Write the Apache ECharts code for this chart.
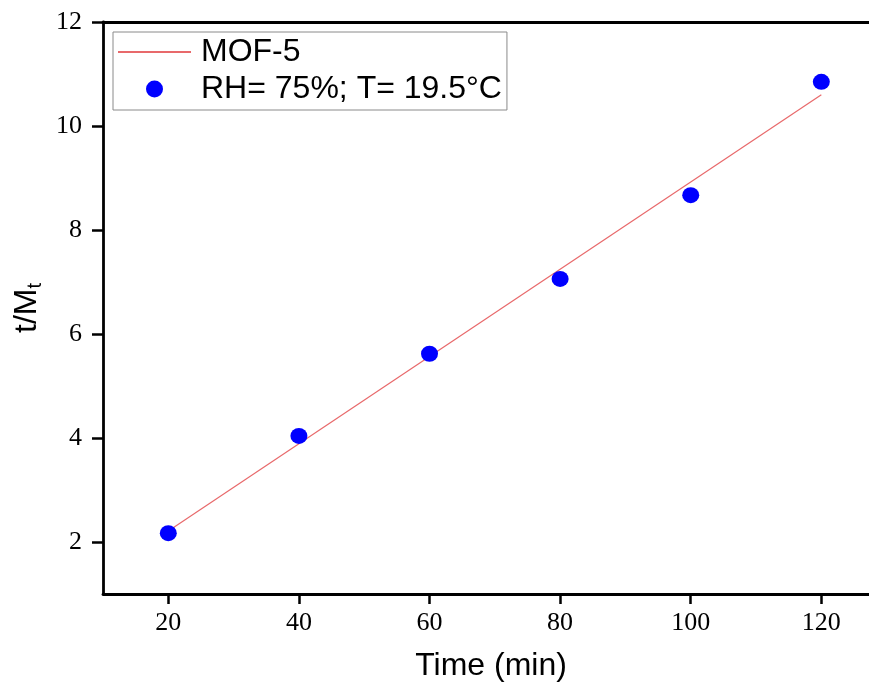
<!DOCTYPE html>
<html>
<head>
<meta charset="utf-8">
<script src="https://cdn.jsdelivr.net/npm/echarts@6/dist/echarts.min.js"></script>
<style>
  html, body { margin: 0; padding: 0; background: #fff; }
  #chart { width: 869px; height: 687px; }
</style>
</head>
<body>
<div id="chart"></div>
<script>
// Water uptake kinetics of MOF-5: t/Mt versus time
const times = [20, 40, 60, 80, 100, 120];
const tOverMt = [2.17, 4.04, 5.62, 7.06, 8.67, 10.85];
// Linear fit drawn across the measured range
const fitX = [20, 120];
const fitY = [2.21, 10.60];
const xTicks = [20, 40, 60, 80, 100, 120];
const yTicks = [2, 4, 6, 8, 10, 12];

const serif = '"Liberation Serif", "Times New Roman", serif';
const sans = '"Liberation Sans", Arial, sans-serif';

const chart = echarts.init(document.getElementById('chart'), null, { renderer: 'canvas' });

chart.setOption({
  backgroundColor: '#ffffff',
  animation: false,
  grid: { left: 103, right: 0, top: 22, bottom: 92, show: false },
  legend: {
    orient: 'vertical',
    left: 113,
    top: 32,
    padding: [4, 5, 5, 4],
    itemGap: 5,
    itemWidth: 73,
    itemHeight: 17,
    borderColor: '#8a8a8a',
    borderWidth: 1,
    textStyle: { fontFamily: sans, fontSize: 32, color: '#000', padding: [0, 0, 0, 5] },
    data: [
      { name: 'MOF-5', itemStyle: { color: 'rgba(0,0,0,0)', borderWidth: 0 } },
      { name: 'RH= 75%; T= 19.5°C', icon: 'circle' }
    ]
  },
  xAxis: [
    {
      type: 'value',
      min: 10,
      max: 127.3,
      splitLine: { show: false },
      axisLine: { show: true, onZero: false, lineStyle: { color: '#000', width: 2.8 } },
      axisTick: { show: true, customValues: xTicks, length: 10, lineStyle: { color: '#000', width: 2.5 } },
      axisLabel: { customValues: xTicks, fontFamily: serif, fontSize: 26, color: '#000', margin: 16 },
      name: 'Time (min)',
      nameLocation: 'middle',
      nameGap: 56,
      nameTextStyle: { fontFamily: sans, fontSize: 32, color: '#000', padding: [0, 0, 0, 10] }
    },
    {
      type: 'value',
      position: 'top',
      min: 10,
      max: 127.3,
      splitLine: { show: false },
      axisLine: { show: true, onZero: false, lineStyle: { color: '#000', width: 2.8 } },
      axisTick: { show: false },
      axisLabel: { show: false }
    }
  ],
  yAxis: {
    type: 'value',
    min: 1,
    max: 12,
    splitLine: { show: false },
    axisLine: { show: true, onZero: false, lineStyle: { color: '#000', width: 2.8 } },
    axisTick: { show: true, customValues: yTicks, length: 11, lineStyle: { color: '#000', width: 2.5 } },
    axisLabel: { customValues: yTicks, fontFamily: serif, fontSize: 26, color: '#000', margin: 21 },
    name: '{a|t/M}{b|t}',
    nameLocation: 'middle',
    nameGap: 57,
    nameTextStyle: {
      rich: {
        a: { fontFamily: sans, fontSize: 32, color: '#000' },
        b: { fontFamily: sans, fontSize: 20, color: '#000', padding: [15, 0, 0, 0] }
      }
    }
  },
  series: [
    {
      name: 'MOF-5',
      type: 'line',
      symbol: 'none',
      data: fitX.map((x, i) => [x, fitY[i]]),
      lineStyle: { color: '#e8696b', width: 1.2 },
      itemStyle: { color: '#e8696b' },
      z: 2
    },
    {
      name: 'RH= 75%; T= 19.5°C',
      type: 'scatter',
      symbol: 'circle',
      symbolSize: [17, 16],
      data: times.map((x, i) => [x, tOverMt[i]]),
      itemStyle: { color: '#0000ff', opacity: 1 },
      z: 3
    }
  ]
});
</script>
</body>
</html>
